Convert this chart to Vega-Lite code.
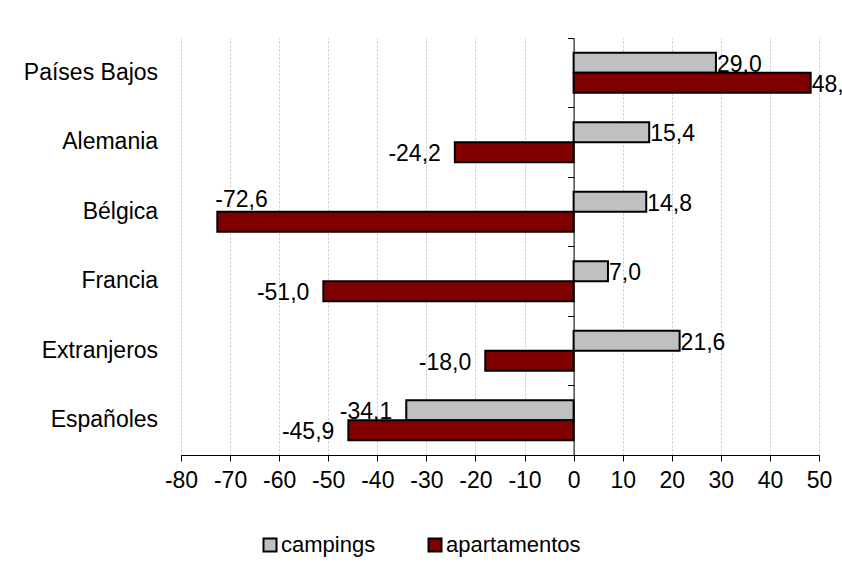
{
  "$schema": "https://vega.github.io/schema/vega-lite/v6.json",
  "autosize": "none",
  "width": 638,
  "height": 417,
  "padding": {"left": 181, "top": 38, "right": 23, "bottom": 116},
  "background": "white",
  "config": {
    "font": "Liberation Sans",
    "view": {"stroke": null},
    "locale": {"number": {"decimal": ",", "thousands": ".", "grouping": [3], "currency": ["", " €"], "minus": "-"}}
  },
  "data": {
    "values": [
      {"pais": "Países Bajos", "serie": "campings", "value": 29.0},
      {"pais": "Países Bajos", "serie": "apartamentos", "value": 48.3},
      {"pais": "Alemania", "serie": "campings", "value": 15.4},
      {"pais": "Alemania", "serie": "apartamentos", "value": -24.2},
      {"pais": "Bélgica", "serie": "campings", "value": 14.8},
      {"pais": "Bélgica", "serie": "apartamentos", "value": -72.6},
      {"pais": "Francia", "serie": "campings", "value": 7.0},
      {"pais": "Francia", "serie": "apartamentos", "value": -51.0},
      {"pais": "Extranjeros", "serie": "campings", "value": 21.6},
      {"pais": "Extranjeros", "serie": "apartamentos", "value": -18.0},
      {"pais": "Españoles", "serie": "campings", "value": -34.1},
      {"pais": "Españoles", "serie": "apartamentos", "value": -45.9}
    ]
  },
  "encoding": {
    "y": {
      "field": "pais", "type": "nominal",
      "sort": ["Países Bajos", "Alemania", "Bélgica", "Francia", "Extranjeros", "Españoles"],
      "scale": {"paddingInner": 0, "paddingOuter": 0},
      "axis": {
        "title": null, "orient": "left", "offset": -392.6,
        "domain": true, "domainColor": "black", "domainWidth": 1,
        "ticks": true, "tickColor": "black", "tickSize": 6, "bandPosition": 0,
        "labelPadding": 410, "labelFontSize": 23, "labelColor": "black", "labelFont": "Liberation Sans",
        "labelAlign": "right", "labelBaseline": "middle", "labelLimit": 300
      }
    },
    "yOffset": {
      "field": "serie", "type": "nominal",
      "sort": ["campings", "apartamentos"],
      "scale": {"paddingInner": 0, "paddingOuter": 0.7375}
    },
    "x": {
      "field": "value", "type": "quantitative",
      "scale": {"domain": [-80, 50], "nice": false, "zero": false},
      "axis": {
        "title": null, "values": [-80, -70, -60, -50, -40, -30, -20, -10, 0, 10, 20, 30, 40, 50],
        "format": "d", "domainColor": "black", "tickColor": "black", "tickSize": 6,
        "labelFontSize": 23, "labelColor": "black", "labelPadding": 8, "labelFont": "Liberation Sans",
        "labelFlush": false, "labelOverlap": false,
        "grid": true, "gridColor": "#c4c4c4", "gridDash": [2, 2], "gridWidth": 1
      }
    }
  },
  "layer": [
    {
      "mark": {"type": "bar", "stroke": "black", "strokeWidth": 2},
      "encoding": {
        "color": {
          "field": "serie", "type": "nominal",
          "sort": ["campings", "apartamentos"],
          "scale": {"domain": ["campings", "apartamentos"], "range": ["#c0c0c0", "#800000"]},
          "legend": {
            "title": null, "orient": "none", "direction": "horizontal",
            "legendX": 78, "legendY": 496,
            "symbolType": "square", "symbolSize": 169, "symbolStrokeColor": "black", "symbolStrokeWidth": 2,
            "labelFontSize": 22, "labelColor": "black", "labelFont": "Liberation Sans", "labelOffset": 0,
            "columnPadding": 48, "padding": 0
          }
        }
      }
    },
    {
      "transform": [{"filter": "datum.value >= 0"}],
      "mark": {"type": "text", "align": "left", "baseline": "middle", "dx": 1, "dy": 2, "fontSize": 23, "color": "black", "font": "Liberation Sans"},
      "encoding": {"text": {"field": "value", "type": "quantitative", "format": ".1f"}}
    },
    {
      "transform": [{"filter": "datum.value < 0 && datum.value > -60"}],
      "mark": {"type": "text", "align": "right", "baseline": "middle", "dx": -14, "dy": 2, "fontSize": 23, "color": "black", "font": "Liberation Sans"},
      "encoding": {"text": {"field": "value", "type": "quantitative", "format": ".1f"}}
    },
    {
      "transform": [{"filter": "datum.value <= -60"}],
      "mark": {"type": "text", "align": "left", "baseline": "middle", "dx": -2, "dy": -22, "fontSize": 23, "color": "black", "font": "Liberation Sans"},
      "encoding": {"text": {"field": "value", "type": "quantitative", "format": ".1f"}}
    }
  ]
}
